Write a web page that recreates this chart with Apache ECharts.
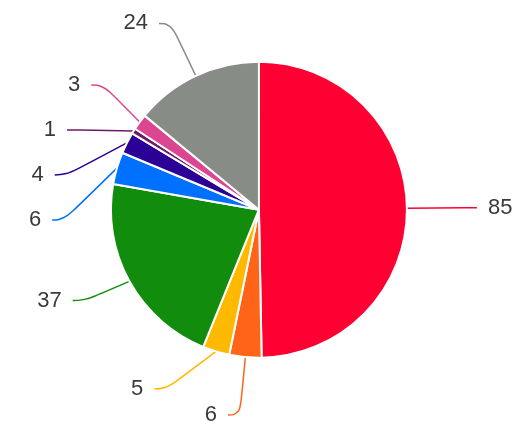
<!DOCTYPE html>
<html><head><meta charset="utf-8">
<script src="https://cdn.jsdelivr.net/npm/echarts@6/dist/echarts.min.js"></script>
<style>html,body{margin:0;padding:0;background:#fff}#c{width:522px;height:428px}</style>
</head><body><div id="c"></div>
<script>
const categories = ['A','B','C','D','E','F','G','H','I'];
const values = [85, 6, 5, 37, 6, 4, 1, 3, 24];
const colors = ['#FF0033','#FF6418','#FFB900','#118C0D','#0070FF','#2A0096','#6A1B6A','#DC4691','#878D86'];
const compactLabel = [false, true, true, false, false, false, false, false, false];
const chart = echarts.init(document.getElementById('c'));
chart.setOption({
  animation: false,
  series: [{
    type: 'pie',
    center: ['49.6%', '49%'],
    radius: 148,
    startAngle: 90,
    clockwise: true,
    itemStyle: { borderColor: '#fff', borderWidth: 2 },
    label: { formatter: '{c}', fontFamily: 'Liberation Sans', fontSize: 22, lineHeight: 43, color: '#3a3a3a', distanceToLabelLine: 11, overflow: 'none' },
    labelLine: { smooth: 0.5, length: 58, length2: 12, lineStyle: { width: 1.5 } },
    data: categories.map((n, i) => {
      const d = { name: n, value: values[i], itemStyle: { color: colors[i] } };
      if (compactLabel[i]) d.label = { lineHeight: 24 };
      return d;
    })
  }]
});
</script></body></html>
